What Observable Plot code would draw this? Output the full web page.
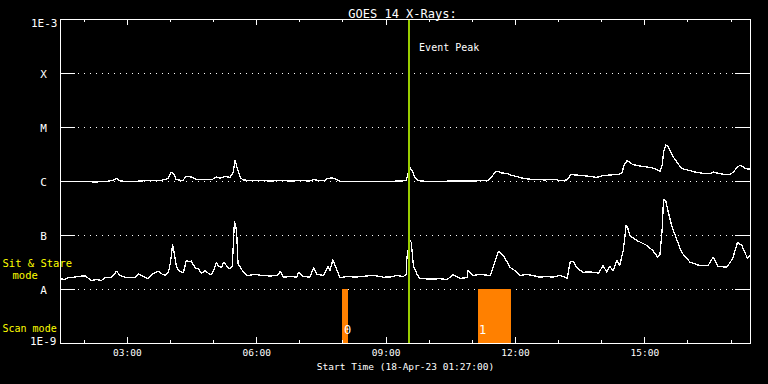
<!DOCTYPE html>
<html><head><meta charset="utf-8">
<script src="https://cdn.jsdelivr.net/npm/d3@7"></script>
<script src="https://cdn.jsdelivr.net/npm/@observablehq/plot@0.6"></script>
<style>
html,body{margin:0;padding:0;background:#000;}
#chart svg line, #chart svg rect, #chart svg path{shape-rendering:crispEdges;}
</style></head><body><div id="chart"></div>
<script>
const day = "2023-04-18";
const startTime = "01:27";
const endTime = "17:27";
const titleText = "GOES 14 X-Rays:";
const xLabel = "Start Time (18-Apr-23 01:27:00)";

// Long channel (1-8 Å), W/m^2
const longTimes = ["01:27","01:41","01:55","02:16","02:30","02:39","02:45","02:50","03:04","03:18",
"03:29","03:46","03:57","04:01","04:04","04:08","04:17","04:22","04:29","04:36",
"04:48","04:58","05:04","05:09","05:16","05:23","05:27","05:30","05:33","05:37",
"05:41","05:51","06:05","06:19","06:33","06:47","07:01","07:14","07:19","07:26",
"07:35","07:38","07:44","07:49","07:53","07:58","08:24","08:52","09:20","09:28",
"09:31","09:33","09:36","09:40","09:45","09:57","10:15","10:29","10:57","11:22",
"11:27","11:33","11:37","11:41","11:48","11:55","12:02","12:11","12:24","12:41",
"12:55","13:02","13:12","13:17","13:23","13:34","13:44","13:53","14:02","14:11",
"14:23","14:28","14:31","14:35","14:39","14:43","14:53","15:03","15:11","15:17",
"15:21","15:24","15:26","15:29","15:32","15:35","15:40","15:45","15:51","16:00",
"16:12","16:23","16:30","16:35","16:40","16:51","16:58","17:04","17:08","17:12",
"17:16","17:20","17:26"];
const longFlux = [1.00e-6,1.00e-6,1.00e-6,0.98e-6,1.00e-6,1.04e-6,1.14e-6,1.02e-6,1.00e-6,1.02e-6,
1.04e-6,1.04e-6,1.14e-6,1.47e-6,1.41e-6,1.09e-6,1.04e-6,1.24e-6,1.21e-6,1.09e-6,
1.09e-6,1.09e-6,1.21e-6,1.16e-6,1.24e-6,1.19e-6,1.47e-6,2.45e-6,1.74e-6,1.19e-6,
1.07e-6,1.04e-6,1.04e-6,1.02e-6,1.04e-6,1.02e-6,1.04e-6,1.02e-6,1.09e-6,1.04e-6,
1.04e-6,1.14e-6,1.16e-6,1.14e-6,1.04e-6,1.00e-6,1.00e-6,1.00e-6,1.02e-6,1.04e-6,
1.47e-6,1.82e-6,1.60e-6,1.19e-6,1.04e-6,1.00e-6,1.00e-6,1.02e-6,1.02e-6,1.04e-6,
1.24e-6,1.53e-6,1.53e-6,1.44e-6,1.41e-6,1.29e-6,1.24e-6,1.14e-6,1.09e-6,1.07e-6,
1.09e-6,1.04e-6,1.07e-6,1.35e-6,1.32e-6,1.29e-6,1.24e-6,1.19e-6,1.29e-6,1.32e-6,
1.35e-6,1.41e-6,1.98e-6,2.40e-6,2.30e-6,2.06e-6,1.94e-6,1.86e-6,1.78e-6,1.67e-6,
1.53e-6,1.98e-6,3.44e-6,4.74e-6,4.45e-6,3.75e-6,2.78e-6,2.25e-6,1.74e-6,1.63e-6,
1.47e-6,1.41e-6,1.39e-6,1.50e-6,1.44e-6,1.35e-6,1.33e-6,1.53e-6,1.82e-6,1.98e-6,
1.90e-6,1.72e-6,1.70e-6];

// Short channel (0.5-4 Å), W/m^2
const shortTimes = ["01:27","01:33","01:38","01:44","01:52","02:02","02:06","02:10","02:17","02:24",
"02:30","02:38","02:45","02:50","02:57","03:04","03:11","03:15","03:22","03:29",
"03:36","03:43","03:49","03:53","03:57","04:00","04:03","04:05","04:08","04:11",
"04:18","04:22","04:26","04:29","04:35","04:39","04:43","04:48","04:53","04:57",
"05:01","05:04","05:07","05:11","05:14","05:16","05:20","05:23","05:26","05:29",
"05:32","05:34","05:40","05:47","05:58","06:08","06:19","06:29","06:33","06:37",
"06:47","06:56","06:58","07:05","07:14","07:19","07:24","07:33","07:39","07:42",
"07:46","07:51","07:56","08:06","08:17","08:28","08:38","08:48","08:56","09:06",
"09:15","09:24","09:28","09:29","09:33","09:35","09:38","09:43","09:47","10:01",
"10:15","10:25","10:33","10:43","10:53","10:54","11:01","11:11","11:25","11:32",
"11:36","11:39","11:43","11:48","11:52","11:59","12:06","12:16","12:24","12:34",
"12:44","12:52","13:02","13:12","13:16","13:20","13:26","13:34","13:44","13:53",
"13:55","14:02","14:07","14:11","14:16","14:21","14:25","14:30","14:34","14:36",
"14:39","14:49","15:03","15:11","15:18","15:21","15:24","15:26","15:29","15:32",
"15:38","15:45","15:51","16:03","16:16","16:28","16:35","16:42","16:54","17:02",
"17:09","17:15","17:20","17:23","17:26"];
const shortFlux = [1.58e-8,1.53e-8,1.69e-8,1.67e-8,1.76e-8,1.78e-8,1.60e-8,1.47e-8,1.53e-8,1.47e-8,
1.69e-8,1.67e-8,2.18e-8,1.82e-8,1.69e-8,1.67e-8,1.69e-8,1.95e-8,1.74e-8,1.60e-8,
1.98e-8,2.18e-8,1.90e-8,1.82e-8,2.06e-8,3.16e-8,6.73e-8,4.84e-8,2.78e-8,2.25e-8,
2.04e-8,3.44e-8,3.30e-8,3.37e-8,2.42e-8,2.45e-8,1.98e-8,2.25e-8,1.98e-8,1.87e-8,
2.45e-8,3.20e-8,2.67e-8,2.59e-8,3.16e-8,2.99e-8,2.55e-8,2.42e-8,2.67e-8,1.82e-7,
1.24e-7,2.99e-8,2.25e-8,1.82e-8,1.90e-8,1.82e-8,1.78e-8,1.82e-8,2.18e-8,1.69e-8,
1.74e-8,1.69e-8,2.09e-8,1.74e-8,1.69e-8,2.52e-8,1.90e-8,1.82e-8,2.67e-8,2.25e-8,
3.55e-8,2.42e-8,1.65e-8,1.74e-8,1.70e-8,1.74e-8,1.82e-8,1.78e-8,1.69e-8,1.70e-8,
1.82e-8,1.74e-8,1.90e-8,3.96e-8,8.32e-8,7.42e-8,2.78e-8,1.90e-8,1.60e-8,1.56e-8,
1.58e-8,1.53e-8,1.87e-8,1.60e-8,1.67e-8,2.25e-8,1.82e-8,1.90e-8,1.82e-8,3.44e-8,
5.06e-8,4.84e-8,4.26e-8,3.30e-8,2.59e-8,2.25e-8,1.82e-8,1.90e-8,1.82e-8,1.69e-8,
1.74e-8,1.69e-8,1.82e-8,1.62e-8,3.20e-8,3.34e-8,2.48e-8,2.09e-8,2.11e-8,2.06e-8,
1.95e-8,2.78e-8,2.09e-8,2.67e-8,2.25e-8,3.44e-8,2.78e-8,5.28e-8,1.53e-7,1.41e-7,
1.00e-7,8.08e-8,6.53e-8,5.28e-8,3.96e-8,4.45e-8,1.24e-7,4.58e-7,4.45e-7,2.90e-7,
1.42e-7,8.08e-8,4.90e-8,3.20e-8,2.78e-8,2.78e-8,3.96e-8,2.67e-8,2.59e-8,3.70e-8,
7.51e-8,6.53e-8,4.58e-8,3.75e-8,4.26e-8];

const eventPeakTime = "09:32";
const eventLabel = "Event Peak";
const scanStarts = ["08:00","11:08"];
const scanEnds = ["08:07","11:55"];
const scanLabels = ["0","1"];
const scanFluxLow = 1e-9;
const scanFluxHigh = 1e-8;

const yMin = 1e-9, yMax = 1e-3;
const classValues = [1e-4,1e-5,1e-6,1e-7,1e-8];
const classLabels = ["X","M","C","B","A"];
const hourTicks = ["02:00","03:00","04:00","05:00","06:00","07:00","08:00","09:00","10:00",
"11:00","12:00","13:00","14:00","15:00","16:00","17:00"];
const majorTicks = ["03:00","06:00","09:00","12:00","15:00"];

const T = s => new Date(`${day}T${s}:00Z`);
const longData = longTimes.map((t,i)=>({t:T(t), v:longFlux[i]}));
const shortData = shortTimes.map((t,i)=>({t:T(t), v:shortFlux[i]}));
const scanData = scanStarts.map((s,i)=>({start:T(s), end:T(scanEnds[i]), label:scanLabels[i]}));
const majors = majorTicks.map(T);
const minors = hourTicks.filter(h=>!majorTicks.includes(h)).map(T);
const ev = T(eventPeakTime);
const fmt = d3.utcFormat("%H:%M");
const FONT = "DejaVu Sans Mono";
const W = "white";

const chart = Plot.plot({
  width: 768, height: 384,
  marginLeft: 60, marginRight: 18, marginTop: 19, marginBottom: 41,
  style: {background: "black", color: "white", fontFamily: FONT, fontSize: "10px", overflow: "visible"},
  x: {type: "utc", domain: [T(startTime), T(endTime)], axis: null},
  y: {type: "log", domain: [yMin, yMax], axis: null},
  marks: [
    Plot.ruleY(classValues, {stroke: W, strokeWidth: 1, strokeDasharray: "1,5", insetLeft: 18, insetRight: 17}),
    Plot.ruleY(classValues, {stroke: W, strokeWidth: 1, insetRight: 675}),
    Plot.ruleY(classValues, {stroke: W, strokeWidth: 1, insetLeft: 675}),
    Plot.rectY(scanData, {x1: "start", x2: "end", y1: scanFluxLow, y2: scanFluxHigh, fill: "#ff8000"}),
    Plot.text(scanData, {x: "start", frameAnchor: "bottom", dy: -10, dx: 1, textAnchor: "start", text: "label", fill: W, fontSize: 12}),
    Plot.ruleX(majors, {stroke: W, insetTop: 318}),
    Plot.ruleX(majors, {stroke: W, insetBottom: 318}),
    Plot.ruleX(minors, {stroke: W, insetTop: 321}),
    Plot.ruleX(minors, {stroke: W, insetBottom: 321}),
    Plot.line(longData, {x: "t", y: "v", stroke: W, strokeWidth: 1.3}),
    Plot.line(shortData, {x: "t", y: "v", stroke: W, strokeWidth: 1.3}),
    Plot.ruleX([ev], {stroke: "#99cc00", strokeWidth: 2}),
    Plot.text([ev], {x: d=>d, frameAnchor: "top", dy: 24, dx: 10, textAnchor: "start", text: () => eventLabel, fill: W, fontSize: 10}),
    Plot.frame({stroke: W}),
    Plot.text(classValues, {y: d=>d, frameAnchor: "left", dx: -17, dy: 1, textAnchor: "middle", text: (d,i)=>classLabels[i], fill: W, fontSize: 11}),
    Plot.text([yMax], {y: d=>d, frameAnchor: "left", dx: -3, dy: 4, textAnchor: "end", text: () => "1E-3", fill: W, fontSize: 11}),
    Plot.text([yMin], {y: d=>d, frameAnchor: "left", dx: -4, dy: -2, textAnchor: "end", text: () => "1E-9", fill: W, fontSize: 11}),
    Plot.text(["Sit & Stare"], {frameAnchor: "top-left", dx: -58, dy: 240, textAnchor: "start", text: d=>d, fill: "#ffff00", fontSize: 10.5}),
    Plot.text(["mode"], {frameAnchor: "top-left", dx: -48, dy: 252, textAnchor: "start", text: d=>d, fill: "#ffff00", fontSize: 10.5}),
    Plot.text(["Scan mode"], {frameAnchor: "top-left", dx: -58, dy: 305, textAnchor: "start", text: d=>d, fill: "#ffff00", fontSize: 10}),
    Plot.text(majors, {x: d=>d, frameAnchor: "bottom", dy: 12, text: d=>fmt(d), fill: W, fontSize: 9.5}),
    Plot.text([xLabel], {frameAnchor: "bottom", dy: 26, text: d=>d, fill: W, fontSize: 9.5}),
    Plot.text([titleText], {frameAnchor: "top", dy: -10, dx: -3, text: d=>d, fill: W, fontSize: 12})
  ]
});
document.getElementById("chart").appendChild(chart);
</script></body></html>
